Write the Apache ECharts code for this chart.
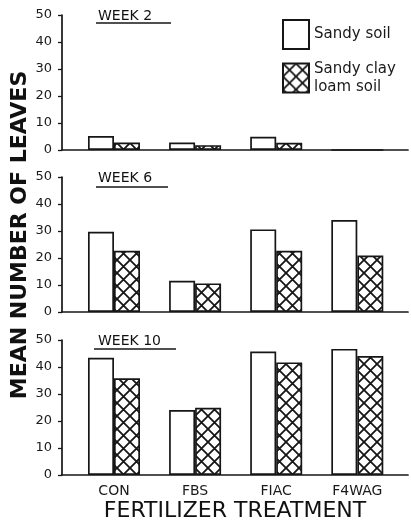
<!DOCTYPE html>
<html><head><meta charset="utf-8">
<script src="https://cdn.jsdelivr.net/npm/echarts@6/dist/echarts.min.js"></script>
<style>html,body{margin:0;padding:0;background:#fff}#c{width:411px;height:527px}</style>
</head><body><div id="c"></div>
<script>
// ---- data ----
const categories = ['CON', 'FBS', 'FIAC', 'F4WAG'];
const weekTitles = ['WEEK 2', 'WEEK 6', 'WEEK 10'];
const seriesNames = ['Sandy soil', 'Sandy clay loam soil'];
const sandyWeek2 = [5.2, 2.8, 4.9, 0];
const clayWeek2 = [2.8, 1.8, 2.7, 0];
const sandyWeek6 = [29.7, 11.6, 30.6, 34.1];
const clayWeek6 = [22.7, 10.6, 22.7, 20.9];
const sandyWeek10 = [43.4, 24.1, 45.7, 46.7];
const clayWeek10 = [35.8, 24.9, 41.7, 44.1];
const yMin = 0, yMax = 50, yStep = 10;
const yTitle = 'MEAN NUMBER OF LEAVES';
const xTitle = 'FERTILIZER TREATMENT';

const panels = [[sandyWeek2, clayWeek2], [sandyWeek6, clayWeek6], [sandyWeek10, clayWeek10]];

// ---- styling ----
const FONT = 'DejaVu Sans';
const INK = '#161616';
function hatch() {
  const s = 13, c = document.createElement('canvas');
  c.width = c.height = s;
  const g = c.getContext('2d');
  g.fillStyle = '#fff'; g.fillRect(0, 0, s, s);
  g.strokeStyle = INK; g.lineWidth = 1.8;
  for (const o of [-s, 0, s]) {
    g.beginPath();
    g.moveTo(o - 1, -1); g.lineTo(o + s + 1, s + 1);
    g.moveTo(o + s + 1, -1); g.lineTo(o - 1, s + 1);
    g.stroke();
  }
  return c;
}
const hatchFill = { image: hatch(), repeat: 'repeat' };

const gridTops = [15, 177, 340];
const gridH = 135;
const grids = gridTops.map(t => ({ left: 62, right: 3, top: t, height: gridH }));

const xAxes = gridTops.map((t, i) => ({
  type: 'value', gridIndex: i, min: 0.359, max: 4.625,
  axisLine: { show: true, onZero: false, lineStyle: { color: INK, width: 1.7 } },
  axisTick: { show: false }, splitLine: { show: false },
  axisLabel: i === 2 ? {
    show: true, customValues: [1, 2, 3, 4],
    formatter: v => categories[Math.round(v) - 1] || '',
    fontFamily: FONT, fontSize: 14, color: '#1a1a1a', margin: 9
  } : { show: false },
  name: i === 2 ? xTitle : '',
  nameLocation: 'middle', nameGap: 25,
  nameTextStyle: { fontFamily: FONT, fontSize: 22, color: '#111' }
}));

const yAxes = gridTops.map((t, i) => ({
  type: 'value', gridIndex: i, min: yMin, max: yMax, interval: yStep,
  axisLine: { show: true, lineStyle: { color: INK, width: 1.7 } },
  axisTick: { show: true, length: 4, lineStyle: { color: INK, width: 1.3 } },
  splitLine: { show: false },
  axisLabel: { fontFamily: FONT, fontSize: 13, color: '#1a1a1a', margin: 10 }
}));

const series = [];
panels.forEach((pair, i) => {
  pair.forEach((vals, k) => {
    series.push({
      type: 'bar', name: seriesNames[k], xAxisIndex: i, yAxisIndex: i,
      barWidth: 26, barGap: '0%',
      itemStyle: { color: k === 0 ? '#fff' : hatchFill, borderColor: INK, borderWidth: 1.7 },
      data: vals.map((v, j) => [j + 1, v])
    });
  });
});

const titles = weekTitles.map((w, i) => ({
  text: w, left: 98, top: gridTops[i] - 6, padding: 0,
  textStyle: { fontFamily: FONT, fontSize: 14, fontWeight: 'normal', color: '#111' }
}));

const underlineY = [23, 187, 349];
const underlineX = [[96, 171], [96, 168], [94, 176]];
const graphic = underlineY.map((y, i) => ({
  type: 'line', shape: { x1: underlineX[i][0], y1: y, x2: underlineX[i][1], y2: y },
  style: { stroke: INK, lineWidth: 1.3 }
}));
graphic.push({
  type: 'text', x: 20, y: 235, rotation: Math.PI / 2,
  style: { text: yTitle, font: 'bold 22px "DejaVu Sans"', fill: '#111', align: 'center', verticalAlign: 'middle' }
});

const chart = echarts.init(document.getElementById('c'));
chart.setOption({
  animation: false,
  backgroundColor: '#fff',
  title: titles,
  legend: {
    orient: 'vertical', left: 277, top: 14, itemWidth: 26, itemHeight: 29, itemGap: 10,
    icon: 'rect', selectedMode: false, data: seriesNames,
    formatter: n => n.replace('clay ', 'clay\n'),
    textStyle: { fontFamily: FONT, fontSize: 15, lineHeight: 18, color: '#1a1a1a' }
  },
  grid: grids, xAxis: xAxes, yAxis: yAxes, series: series, graphic: graphic
});
</script></body></html>
